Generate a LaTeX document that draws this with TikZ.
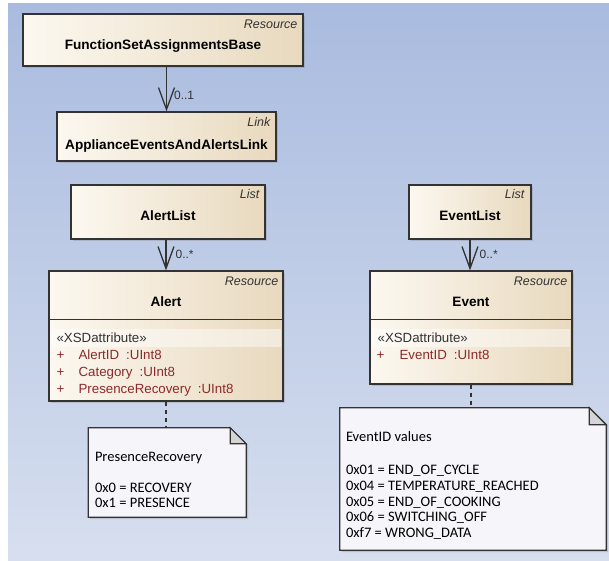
\documentclass[tikz,border=0pt]{standalone}
\usepackage{fontspec}
\setmainfont{Liberation Sans}
\newfontfamily\notefont{Carlito}
\usetikzlibrary{arrows.meta, shadows}

\definecolor{fonverh}{HTML}{A9BBDF}
\definecolor{fonniz}{HTML}{D7DFEF}
\definecolor{klassl}{HTML}{FCF8F0}
\definecolor{klassr}{HTML}{E8D9BE}
\definecolor{ramka}{HTML}{333333}
\definecolor{atribut}{HTML}{8C2A2A}
\definecolor{zametka}{HTML}{F6F6FA}
\definecolor{ugol}{HTML}{D5D5D8}

\begin{document}
\begin{tikzpicture}[x=1pt, y=-1pt,
		klass/.style={draw=ramka, line width=1.2pt, left color=klassl, right color=klassr, inner sep=0pt,
			drop shadow={shadow xshift=2pt, shadow yshift=-2pt, opacity=0.3}},
		imya/.style={font=\fontsize{13.6}{16}\selectfont\bfseries, inner sep=0pt, anchor=mid},
		stereo/.style={font=\fontsize{12.5}{15}\selectfont\itshape, text=ramka, inner sep=0pt, anchor=mid east},
		attr/.style={font=\fontsize{13.3}{15}\selectfont, text=atribut, inner sep=0pt, anchor=mid west},
		kratn/.style={font=\fontsize{12}{14}\selectfont, text=ramka, inner sep=1pt},
		assoc/.style={draw=ramka, line width=1.3pt, -{Straight Barb[length=22pt, width=16pt, line width=1.3pt]}},
		svyaz/.style={draw=ramka, line width=1.5pt, dash pattern=on 4pt off 4pt},
		zamet/.style={draw=ramka, line width=1.2pt, fill=zametka,
			drop shadow={shadow xshift=2pt, shadow yshift=-2pt, opacity=0.3}},
		notetext/.style={font=\notefont\fontsize{14.5}{16}\selectfont, inner sep=0pt, anchor=base west}]
	\useasboundingbox (0,0) rectangle (609,560);
	
	% Фон
	\fill[white] (0,0) rectangle (609,560);
	\shade[top color=fonverh, bottom color=fonniz] (8,3) rectangle (609,560);
	
	% Классы
	\node[klass, minimum width=280pt, minimum height=52pt] (fsab) at (163,40) {};
	\node[klass, minimum width=219pt, minimum height=49pt] (link) at (166.5,136.5) {};
	\node[klass, minimum width=194pt, minimum height=54pt] (alertlist) at (168,212) {};
	\node[klass, minimum width=122pt, minimum height=54pt] (eventlist) at (470,212) {};
	\node[klass, minimum width=234pt, minimum height=130pt] (alert) at (166,336) {};
	\node[klass, minimum width=202pt, minimum height=113pt] (event) at (471,327.5) {};
	
	% Подписи классов
	\node[stereo] at ([xshift=-6pt, yshift=-12pt]fsab.north east) {Resource};
	\node[imya] at ([yshift=-33pt]fsab.north) {FunctionSetAssignmentsBase};
	\node[stereo] at ([xshift=-6pt, yshift=-12pt]link.north east) {Link};
	\node[imya] at ([yshift=-35pt]link.north) {ApplianceEventsAndAlertsLink};
	\node[stereo] at ([xshift=-6pt, yshift=-11pt]alertlist.north east) {List};
	\node[imya] at ([yshift=-33pt]alertlist.north) {AlertList};
	\node[stereo] at ([xshift=-7pt, yshift=-11pt]eventlist.north east) {List};
	\node[imya] at ([yshift=-33pt]eventlist.north) {EventList};
	\node[stereo] at ([xshift=-5pt, yshift=-12pt]alert.north east) {Resource};
	\node[imya] at ([yshift=-33pt]alert.north) {Alert};
	\node[stereo] at ([xshift=-5pt, yshift=-12pt]event.north east) {Resource};
	\node[imya] at ([yshift=-33pt]event.north) {Event};
	
	% Атрибуты
	\foreach \k in {alert, event} {
		\draw[draw=ramka, line width=1.2pt] ([yshift=-49pt]\k.north west) -- ([yshift=-49pt]\k.north east);
		\fill[white, opacity=0.45] ([xshift=3pt, yshift=-59pt]\k.north west) rectangle ([xshift=-3pt, yshift=-77pt]\k.north east);
		\node[attr, text=ramka] at ([xshift=8pt, yshift=-69pt]\k.north west) {«XSDattribute»};
	}
	\foreach \a [count=\i] in {AlertID, Category, PresenceRecovery} {
		\node[attr] at ([xshift=8pt, yshift={-69pt-17*\i pt}]alert.north west) {+};
		\node[attr] at ([xshift=30pt, yshift={-69pt-17*\i pt}]alert.north west) {\a\hspace{7pt}:UInt8};
	}
	\node[attr] at ([xshift=7pt, yshift=-86pt]event.north west) {+};
	\node[attr] at ([xshift=30pt, yshift=-86pt]event.north west) {EventID\hspace{7pt}:UInt8};
	
	% Ассоциации
	\draw[assoc] (link.north |- fsab.south) -- (link.north)
		node[kratn, at end, anchor=south west, xshift=6pt, yshift=10pt] {0..1};
	\draw[assoc] (alert.north |- alertlist.south) -- (alert.north)
		node[kratn, at end, anchor=south west, xshift=8pt, yshift=10pt] {0..*};
	\draw[assoc] (eventlist.south) -- (eventlist.south |- event.north)
		node[kratn, at end, anchor=south west, xshift=8pt, yshift=10pt] {0..*};
	
	% Заметки
	\node[minimum width=157.5pt, minimum height=89pt, inner sep=0pt] (anote) at (167.25,472.5) {};
	\node[minimum width=266pt, minimum height=142pt, inner sep=0pt] (enote) at (473,479) {};
	\foreach \n/\f in {anote/16, enote/17} {
		\draw[zamet] (\n.north west) -- ([xshift=-\f pt]\n.north east) -- ([yshift=-\f pt]\n.north east)
			-- (\n.south east) -- (\n.south west) -- cycle;
		\draw[draw=ramka, line width=1.2pt, fill=ugol] ([xshift=-\f pt]\n.north east) -- ([xshift=-\f pt, yshift=-\f pt]\n.north east)
			-- ([yshift=-\f pt]\n.north east) -- cycle;
	}
	\draw[svyaz] (alert.south) -- (alert.south |- anote.north);
	\draw[svyaz] (event.south) -- (event.south |- enote.north);
	
	% Текст заметок
	\node[notetext] at ([xshift=6.5pt, yshift=-34pt]anote.north west) {PresenceRecovery};
	\node[notetext] at ([xshift=6.5pt, yshift=-64.7pt]anote.north west) {0x0 = RECOVERY};
	\node[notetext] at ([xshift=6.5pt, yshift=-79.7pt]anote.north west) {0x1 = PRESENCE};
	\node[notetext] at ([xshift=6pt, yshift=-34pt]enote.north west) {EventID values};
	\foreach \s [count=\i] in {0x01 = END\_OF\_CYCLE, 0x04 = TEMPERATURE\_REACHED, 0x05 = END\_OF\_COOKING, 0x06 = SWITCHING\_OFF, 0xf7 = WRONG\_DATA}
		\node[notetext] at ([xshift=6pt, yshift={-50.8pt-15.8*\i pt}]enote.north west) {\s};
\end{tikzpicture}
\end{document}
